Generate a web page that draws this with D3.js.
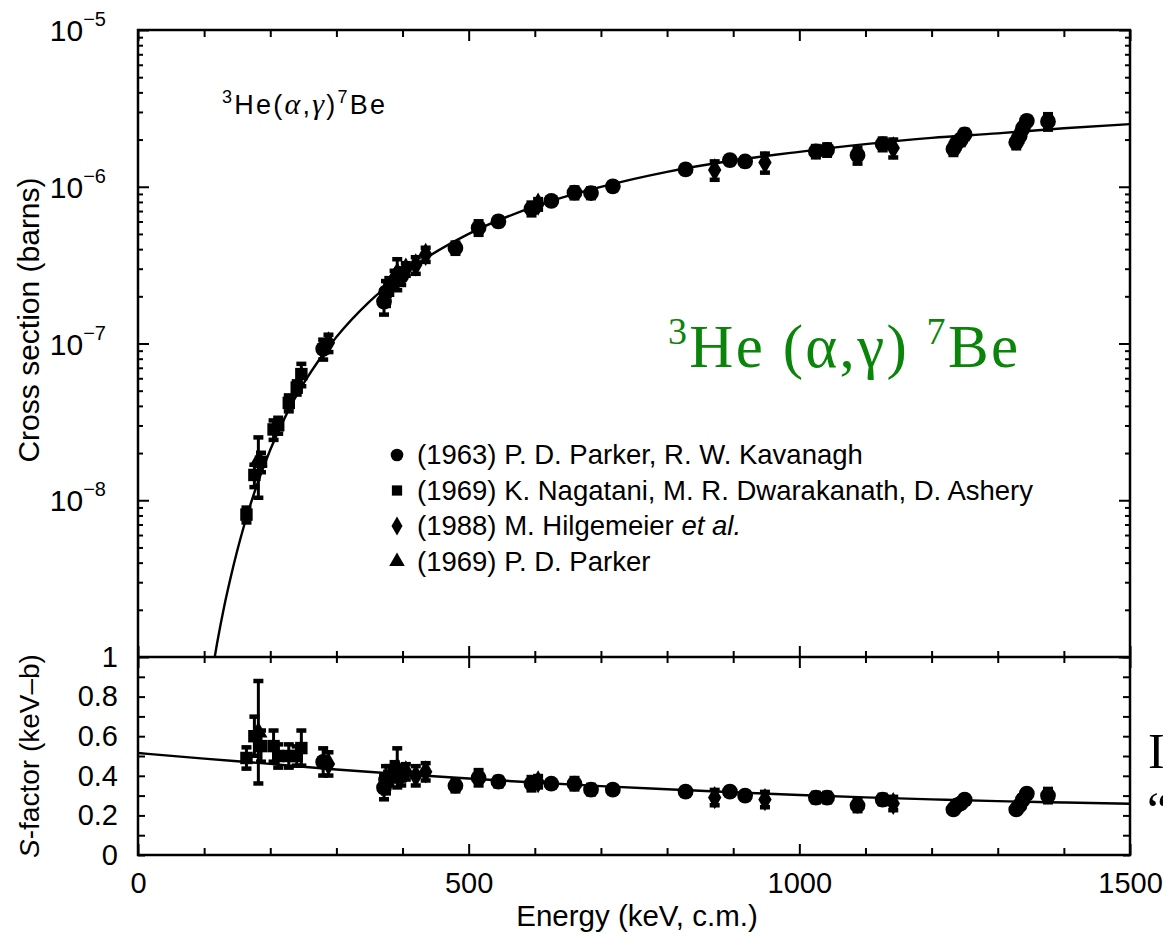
<!DOCTYPE html>
<html>
<head>
<meta charset="utf-8">
<script src="https://cdn.jsdelivr.net/npm/d3@7"></script>
<style>
  body { margin: 0; background: #fff; }
</style>
</head>
<body>
<div id="chart"></div>
<script>
const energy  = [164, 176, 182, 186, 205, 212, 228, 240, 247, 280, 288, 372, 375, 380, 388, 392, 398, 405, 420, 435,
                 480, 515, 545, 595, 605, 625, 660, 685, 718, 828, 872, 895, 918, 948, 1025, 1042, 1088, 1126, 1142,
                 1233, 1238, 1244, 1250, 1328, 1333, 1338, 1344, 1376];
const sFactor = [0.49, 0.60, 0.62, 0.55, 0.55, 0.50, 0.50, 0.50, 0.54, 0.47, 0.46, 0.34, 0.38, 0.40, 0.42, 0.44, 0.40, 0.42, 0.40, 0.42,
                 0.35, 0.39, 0.37, 0.36, 0.37, 0.36, 0.36, 0.33, 0.33, 0.32, 0.29, 0.32, 0.30, 0.28, 0.29, 0.29, 0.25, 0.28, 0.26,
                 0.23, 0.25, 0.26, 0.28, 0.23, 0.25, 0.28, 0.31, 0.30];
const sErr    = [0.055, 0.10, 0.26, 0.08, 0.08, 0.06, 0.06, 0.05, 0.09, 0.07, 0.06, 0.06, 0.07, 0.05, 0.05, 0.10, 0.05, 0.04, 0.05, 0.045,
                 0.03, 0.04, 0.025, 0.035, 0.03, 0.02, 0.03, 0.025, 0.02, 0.02, 0.04, 0.02, 0.02, 0.04, 0.025, 0.025, 0.03, 0.025, 0.035,
                 0.02, 0.02, 0.02, 0.02, 0.02, 0.02, 0.02, 0.02, 0.035];
const sigma   = [8.1e-9, 1.45e-8, 1.78e-8, 1.76e-8, 2.83e-8, 3.01e-8, 4.18e-8, 5.23e-8, 6.38e-8, 9.24e-8, 1.01e-7, 1.85e-7, 2.12e-7, 2.33e-7, 2.61e-7, 2.82e-7, 2.69e-7, 2.98e-7, 3.17e-7, 3.70e-7,
                 4.07e-7, 5.48e-7, 6.01e-7, 7.25e-7, 7.74e-7, 8.12e-7, 9.17e-7, 9.12e-7, 1.006e-6, 1.29e-6, 1.28e-6, 1.48e-6, 1.45e-6, 1.43e-6, 1.68e-6, 1.72e-6, 1.59e-6, 1.87e-6, 1.77e-6,
                 1.74e-6, 1.90e-6, 1.99e-6, 2.16e-6, 1.92e-6, 2.10e-6, 2.36e-6, 2.63e-6, 2.61e-6];
// 0 circle, 1 square, 2 diamond, 3 triangle
const group   = [1, 1, 3, 1, 1, 1, 1, 1, 1, 0, 2, 0, 0, 1, 2, 3, 0, 2, 2, 2,
                 0, 0, 0, 0, 2, 0, 0, 0, 0, 0, 2, 0, 0, 2, 0, 0, 0, 0, 2,
                 0, 0, 0, 0, 0, 0, 0, 0, 0];

const legendLabels = ["(1963) P. D. Parker, R. W. Kavanagh",
                      "(1969) K. Nagatani, M. R. Dwarakanath, D. Ashery",
                      "(1988) M. Hilgemeier ",
                      "(1969) P. D. Parker"];

// fitted curves
const curveE     = [110, 120, 130, 140, 150, 160, 175, 200, 225, 250, 275, 300, 350, 400, 500, 600, 700, 800, 900, 1000, 1100, 1200, 1300, 1400, 1500];
const curveSigma = [7.0e-10, 1.25e-9, 2.07e-9, 3.2e-9, 4.76e-9, 6.8e-9, 1.09e-8, 2.10e-8, 3.57e-8, 5.52e-8, 8.0e-8, 1.10e-7, 1.85e-7, 2.77e-7, 5.0e-7,
                    7.49e-7, 9.97e-7, 1.245e-6, 1.47e-6, 1.67e-6, 1.87e-6, 2.05e-6, 2.19e-6, 2.36e-6, 2.51e-6];
const sCurveE = [0, 100, 200, 300, 400, 500, 600, 700, 800, 900, 1000, 1100, 1200, 1300, 1400, 1500];
const sCurve  = [0.515, 0.487, 0.46, 0.432, 0.408, 0.386, 0.366, 0.348, 0.332, 0.317, 0.303, 0.291, 0.281, 0.272, 0.265, 0.259];

const xTickLabels = [0, 500, 1000, 1500];
const sTickLabels = [0, 0.2, 0.4, 0.6, 0.8, 1];
const decadeLabels = [1e-8, 1e-7, 1e-6, 1e-5];

const W = 1163, H = 933;
const pl = 138, pr = 1130, pt = 30, pm = 657, pb = 855;
const sans = "Liberation Sans, Arial, Helvetica, sans-serif";
const serif = "Liberation Serif, Times New Roman, serif";

const svg = d3.select("#chart").append("svg")
  .attr("width", W).attr("height", H)
  .attr("font-family", sans)
  .style("background", "#fff");

const x = d3.scaleLinear().domain([0, 1500]).range([pl, pr]);
const yTop = d3.scaleLog().domain([1e-9, 1e-5]).range([pm, pt]);
const yS = d3.scaleLinear().domain([0, 1]).range([pb, pm]);

const shapes = [d3.symbolCircle, d3.symbolSquare, d3.symbolDiamond, d3.symbolTriangle];
const shapeSize = [195, 155, 155, 145];

// clip paths
const defs = svg.append("defs");
defs.append("clipPath").attr("id", "clipTop").append("rect")
  .attr("x", pl).attr("y", pt).attr("width", pr - pl).attr("height", pm - pt);
defs.append("clipPath").attr("id", "clipBot").append("rect")
  .attr("x", pl).attr("y", pm).attr("width", pr - pl).attr("height", pb - pm);

// ---- axes ----
const xMinor = d3.range(0, 1501, 100);
function styleAxis(g) {
  g.select(".domain").remove();
  g.selectAll("line").attr("stroke", "#000").attr("stroke-width", 2);
}

// top edge, inward ticks
svg.append("g").attr("transform", `translate(0,${pt})`)
  .call(d3.axisTop(x).tickValues(xMinor).tickSize(-7).tickFormat(""))
  .call(styleAxis)
  .call(g => g.selectAll(".tick line").filter(d => d % 500 === 0).attr("y2", 11));

// shared middle edge, ticks cross the line
svg.append("g").attr("transform", `translate(0,${pm})`)
  .call(d3.axisBottom(x).tickValues(xMinor).tickSize(6).tickFormat(""))
  .call(styleAxis)
  .call(g => g.selectAll(".tick line").attr("y1", d => d % 500 === 0 ? -11 : -6).attr("y2", d => d % 500 === 0 ? 11 : 6));

// bottom edge
svg.append("g").attr("transform", `translate(0,${pb})`)
  .call(d3.axisBottom(x).tickValues(xMinor).tickSize(-7).tickPadding(17)
    .tickFormat(d => xTickLabels.includes(d) ? d : ""))
  .call(styleAxis)
  .call(g => g.selectAll(".tick line").filter(d => d % 500 === 0).attr("y2", -11))
  .call(g => g.selectAll("text").attr("font-size", 29).attr("fill", "#000").attr("font-family", sans));

// log axes, left and right of the top panel
const logTicks = yTop.ticks();
const isDecade = d => Math.abs(Math.log10(d) - Math.round(Math.log10(d))) < 1e-6;
svg.append("g").attr("transform", `translate(${pl},0)`)
  .call(d3.axisLeft(yTop).tickValues(logTicks).tickSize(-5).tickFormat(""))
  .call(styleAxis)
  .call(g => g.selectAll(".tick line").filter(isDecade).attr("x2", 11));
svg.append("g").attr("transform", `translate(${pr},0)`)
  .call(d3.axisRight(yTop).tickValues(logTicks).tickSize(-5).tickFormat(""))
  .call(styleAxis)
  .call(g => g.selectAll(".tick line").filter(isDecade).attr("x2", -11));

// decade labels with superscripts
const decLab = svg.append("g").selectAll("text").data(decadeLabels).join("text")
  .attr("x", 106).attr("y", d => yTop(d) + 11)
  .attr("text-anchor", "end").attr("fill", "#000");
decLab.append("tspan").attr("font-size", 30).text("10");
decLab.append("tspan").attr("font-size", 20).attr("dy", -15)
  .text(d => "\u2212" + Math.round(-Math.log10(d)));

// S-factor axes
const sTicks = d3.range(0, 11).map(i => i / 10);
svg.append("g").attr("transform", `translate(${pl},0)`)
  .call(d3.axisLeft(yS).tickValues(sTicks.filter(d => d < 1)).tickSize(-7).tickPadding(20)
    .tickFormat(d => sTickLabels.some(v => Math.abs(v - d) < 1e-9) ? (d === 0 ? "0" : d3.format(".1f")(d)) : ""))
  .call(styleAxis)
  .call(g => g.selectAll("text").attr("font-size", 29).attr("fill", "#000").attr("font-family", sans));
svg.append("text").attr("x", 118).attr("y", yS(1) + 10)
  .attr("text-anchor", "end").attr("font-size", 29).text("1");
svg.append("g").attr("transform", `translate(${pr},0)`)
  .call(d3.axisRight(yS).tickValues(sTicks).tickSize(-7).tickFormat(""))
  .call(styleAxis);

// frames
svg.append("rect").attr("x", pl).attr("y", pt).attr("width", pr - pl).attr("height", pb - pt)
  .attr("fill", "none").attr("stroke", "#000").attr("stroke-width", 2.5);
svg.append("line").attr("x1", pl).attr("x2", pr).attr("y1", pm).attr("y2", pm)
  .attr("stroke", "#000").attr("stroke-width", 2.5);

// ---- curves ----
svg.append("path")
  .datum(curveE.map((e, i) => [e, curveSigma[i]]))
  .attr("clip-path", "url(#clipTop)")
  .attr("fill", "none").attr("stroke", "#000").attr("stroke-width", 2.4)
  .attr("d", d3.line().x(d => x(d[0])).y(d => yTop(d[1])).curve(d3.curveMonotoneX));

svg.append("path")
  .datum(sCurveE.map((e, i) => [e, sCurve[i]]))
  .attr("clip-path", "url(#clipBot)")
  .attr("fill", "none").attr("stroke", "#000").attr("stroke-width", 2.4)
  .attr("d", d3.line().x(d => x(d[0])).y(d => yS(d[1])).curve(d3.curveMonotoneX));

// ---- data points with error bars ----
const pts = energy.map((e, i) => ({
  e, s: sFactor[i], se: sErr[i], sig: sigma[i], rel: sErr[i] / sFactor[i], g: group[i]
}));

function drawPoints(layer, yOf, valOf, loOf, hiOf) {
  const g = layer.selectAll("g.pt").data(pts).join("g").attr("class", "pt");
  g.append("line")
    .attr("x1", d => x(d.e)).attr("x2", d => x(d.e))
    .attr("y1", d => yOf(loOf(d))).attr("y2", d => yOf(hiOf(d)))
    .attr("stroke", "#000").attr("stroke-width", 3);
  g.append("rect")
    .attr("x", d => x(d.e) - 5).attr("y", d => yOf(hiOf(d)) - 2)
    .attr("width", 10).attr("height", 4.5).attr("fill", "#000");
  g.append("rect")
    .attr("x", d => x(d.e) - 5).attr("y", d => yOf(loOf(d)) - 2.5)
    .attr("width", 10).attr("height", 4.5).attr("fill", "#000");
  g.append("path")
    .attr("transform", d => `translate(${x(d.e)},${yOf(valOf(d))})`)
    .attr("d", d => d3.symbol().type(shapes[d.g]).size(shapeSize[d.g])())
    .attr("fill", "#000");
}

drawPoints(svg.append("g").attr("clip-path", "url(#clipTop)"), yTop,
  d => d.sig, d => d.sig * (1 - d.rel), d => d.sig * (1 + d.rel));
drawPoints(svg.append("g").attr("clip-path", "url(#clipBot)"), yS,
  d => d.s, d => d.s - d.se, d => d.s + d.se);

// ---- legend ----
const legend = svg.append("g");
legendLabels.forEach((lab, i) => {
  const cy = 455 + i * 35.5;
  legend.append("path")
    .attr("transform", `translate(397,${cy})`)
    .attr("d", d3.symbol().type(shapes[i]).size(i === 0 ? 125 : 105)())
    .attr("fill", "#000");
  const t = legend.append("text").attr("x", 417).attr("y", cy + 9)
    .attr("font-size", 27.5).attr("fill", "#000").text(lab);
  if (i === 2) t.append("tspan").attr("font-style", "italic").text("et al.");
});

// ---- annotations ----
const ann = svg.append("text").attr("x", 222).attr("y", 114).attr("font-size", 27).attr("fill", "#000")
  .attr("textLength", 163).attr("lengthAdjust", "spacing");
ann.append("tspan").attr("font-size", 18).attr("dy", -11).text("3");
ann.append("tspan").attr("dy", 11).text("He(");
ann.append("tspan").attr("font-style", "italic").attr("font-family", serif).attr("font-size", 30).text("\u03b1");
ann.append("tspan").text(",");
ann.append("tspan").attr("font-style", "italic").attr("font-family", serif).attr("font-size", 30).text("\u03b3");
ann.append("tspan").text(")");
ann.append("tspan").attr("font-size", 18).attr("dy", -11).text("7");
ann.append("tspan").attr("dy", 11).text("Be");

const green = svg.append("text").attr("x", 668).attr("y", 367)
  .attr("font-family", serif)
  .attr("font-size", 61).attr("fill", "#0a850a")
  .attr("textLength", 350).attr("lengthAdjust", "spacing");
green.append("tspan").attr("font-size", 38).attr("dy", -23).text("3");
green.append("tspan").attr("dy", 23).text("He (\u03b1,\u03b3) ");
green.append("tspan").attr("font-size", 38).attr("dy", -23).text("7");
green.append("tspan").attr("dy", 23).text("Be");

// axis titles
svg.append("text").attr("transform", "translate(39,320) rotate(-90)")
  .attr("text-anchor", "middle").attr("font-size", 30).text("Cross section (barns)");
const sTitle = svg.append("text").attr("transform", "translate(39,756) rotate(-90)")
  .attr("text-anchor", "middle").attr("font-size", 28);
sTitle.append("tspan").attr("font-style", "italic").text("S");
sTitle.append("tspan").text("-factor (keV\u2013b)");
svg.append("text").attr("x", 637).attr("y", 926).attr("text-anchor", "middle")
  .attr("font-size", 29.5).text("Energy (keV, c.m.)");

// text cut by the right edge of the slide
svg.append("text").attr("x", 1148).attr("y", 768)
  .attr("font-family", serif).attr("font-size", 50).text("I");
svg.append("text").attr("x", 1147).attr("y", 827)
  .attr("font-family", serif).attr("font-size", 50).text("\u201c");
</script>
</body>
</html>
